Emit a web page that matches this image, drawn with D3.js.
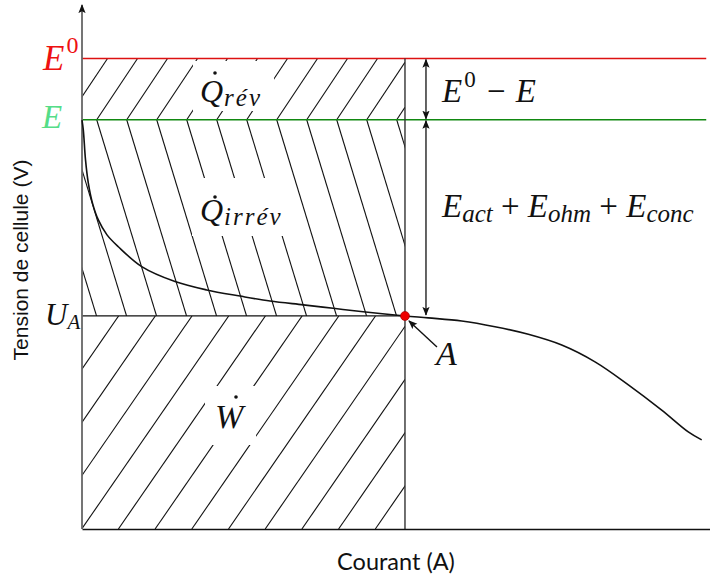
<!DOCTYPE html>
<html>
<head>
<meta charset="utf-8">
<script src="https://cdn.jsdelivr.net/npm/d3@7"></script>
<style>
  body { margin: 0; background: #fff; }
  svg { display: block; }
</style>
</head>
<body>
<div id="chart"></div>
<script>
// courbe de polarisation (courant en % du max, tension en V)
const courant = [0, 0.21, 0.56, 1.0, 1.67, 2.6, 3.98, 5.78, 9.51, 14.81, 19.86, 25.16, 29.94, 35.24, 40.0,
  44.78, 51.43, 55.14, 60.46, 65.76, 71.07, 76.39, 81.69, 87.0, 92.31, 96.54, 98.68];
const tension = [1.069, 1.043, 0.965, 0.905, 0.852, 0.808, 0.769, 0.738, 0.686, 0.647, 0.625, 0.609, 0.596, 0.586, 0.577,
  0.568, 0.557, 0.552, 0.544, 0.529, 0.509, 0.481, 0.437, 0.377, 0.311, 0.254, 0.233];

// niveaux de tension : E0, E, U_A
const niveauxNoms = ['E0', 'E', 'UA'];
const niveauxVal = [1.23, 1.07, 0.557];

// point de fonctionnement A
const pointA = { i: 51.43, u: 0.557 };

const width = 710, height = 578;
const E0 = niveauxVal[0], E = niveauxVal[1], UA = niveauxVal[2];
const serif = '"Liberation Serif", "Times New Roman", serif';

const svg = d3.select('#chart').append('svg')
  .attr('width', width)
  .attr('height', height);

const x = d3.scaleLinear().domain([0, 100]).range([82, 710]);
const y = d3.scaleLinear().domain([0, 1.37]).range([529, 5]);

const defs = svg.append('defs');
defs.append('marker')
  .attr('id', 'fleche')
  .attr('viewBox', '0 -5 10 10')
  .attr('refX', 9).attr('refY', 0)
  .attr('markerUnits', 'userSpaceOnUse')
  .attr('markerWidth', 9).attr('markerHeight', 9)
  .attr('orient', 'auto-start-reverse')
  .append('path')
  .attr('d', 'M0,-4L10,0L0,4L2,0Z')
  .attr('fill', '#111');

// hachures, une zone a la fois
function hachures(id, x0, x1, y0, y1, yRef, xDebut, pas, pente) {
  defs.append('clipPath').attr('id', id)
    .append('rect')
    .attr('x', x0).attr('y', y0)
    .attr('width', x1 - x0).attr('height', y1 - y0);
  const xs = d3.range(-25, 30).map(k => xDebut + k * pas);
  svg.append('g')
    .attr('clip-path', `url(#${id})`)
    .selectAll('line')
    .data(xs)
    .join('line')
    .attr('x1', d => d + pente * (y0 - yRef))
    .attr('y1', y0)
    .attr('x2', d => d + pente * (y1 - yRef))
    .attr('y2', y1)
    .attr('stroke', '#111')
    .attr('stroke-width', 1.1);
}

hachures('h-rev', x(0), x(pointA.i), y(E0), y(E), y(E), x(0) + 14.7, 30, -0.667);
hachures('h-irrev', x(0), x(pointA.i), y(E), y(UA), y(E), x(0) + 14.7, 30, 0.305);
hachures('h-w', x(0), x(pointA.i), y(UA), y(0), y(0), x(0) - 0.3, 36.7, -0.69);

// petit moteur de formules (lettre, indices, exposants)
function formule(g, px, py, parties, couleur) {
  const t = g.append('text')
    .attr('x', px).attr('y', py)
    .attr('fill', couleur || '#111')
    .style('font-family', serif)
    .style('white-space', 'pre');
  let cur = 0;
  parties.forEach(p => {
    const off = p.off || 0;
    t.append('tspan')
      .attr('dy', off - cur)
      .attr('dx', p.dx || 0)
      .style('font-size', p.s + 'px')
      .style('font-style', p.it === false ? 'normal' : 'italic')
      .style('letter-spacing', (p.ls || 0) + 'px')
      .text(p.t);
    cur = off;
  });
  return t;
}

const etiquettes = svg.append('g');

function fond(t, padX, padTop, padBot, padR) {
  const b = t.node().getBBox();
  etiquettes.insert('rect', ':first-child')
    .attr('x', b.x - padX).attr('y', b.y - padTop)
    .attr('width', b.width + padX + padR).attr('height', b.height + padTop + padBot)
    .attr('fill', '#fff');
}

function point(g, cx, cy) {
  g.append('circle').attr('cx', cx).attr('cy', cy).attr('r', 1.8).attr('fill', '#111');
}

// Q rev
const qRev = formule(etiquettes, 200, 102, [
  { t: 'Q', s: 32 },
  { t: 'rév', s: 25, off: 4, dx: 1, ls: 2 }
]);
point(etiquettes, 215, 73);
fond(qRev, 7, 12, 0, 12);

// Q irrev
const qIrr = formule(etiquettes, 200, 221, [
  { t: 'Q', s: 32 },
  { t: 'irrév', s: 25, off: 4, dx: 1, ls: 2 }
]);
point(etiquettes, 215, 197);
fond(qIrr, 8, 14, 6, 6);

// W
const wLab = formule(etiquettes, 215, 428, [{ t: 'W', s: 34 }]);
point(etiquettes, 236, 397);
fond(wLab, 10, 12, 10, 10);

// lignes de niveau
svg.append('line')
  .attr('x1', x(0)).attr('x2', x(99.4))
  .attr('y1', y(E0)).attr('y2', y(E0))
  .attr('stroke', '#dd1111').attr('stroke-width', 1.5);
svg.append('line')
  .attr('x1', x(0)).attr('x2', x(99.4))
  .attr('y1', y(E)).attr('y2', y(E))
  .attr('stroke', '#118811').attr('stroke-width', 1.5);
svg.append('line')
  .attr('x1', x(0)).attr('x2', x(pointA.i))
  .attr('y1', y(UA)).attr('y2', y(UA))
  .attr('stroke', '#111').attr('stroke-width', 1.3);
svg.append('line')
  .attr('x1', x(pointA.i)).attr('x2', x(pointA.i))
  .attr('y1', y(E0)).attr('y2', y(0))
  .attr('stroke', '#333').attr('stroke-width', 1.4);

// axes
svg.append('g')
  .attr('transform', `translate(0,${y(0)})`)
  .call(d3.axisBottom(x).ticks(0).tickSizeOuter(0))
  .call(g => g.select('.domain').attr('stroke', '#111').attr('stroke-width', 1.6));

const axeY = svg.append('g')
  .attr('transform', `translate(${x(0)},0)`)
  .call(d3.axisLeft(y).ticks(0).tickSizeOuter(0));
axeY.select('.domain').remove();
axeY.append('line')
  .attr('x1', 0).attr('x2', 0)
  .attr('y1', y(0)).attr('y2', y.range()[1])
  .attr('stroke', '#666').attr('stroke-width', 1.8)
  .attr('marker-end', 'url(#fleche)');

// courbe de polarisation
const ligne = d3.line()
  .x((d, i) => x(courant[i]))
  .y(d => y(d))
  .curve(d3.curveCatmullRom.alpha(0.5));

svg.append('path')
  .datum(tension)
  .attr('d', ligne)
  .attr('fill', 'none')
  .attr('stroke', '#111')
  .attr('stroke-width', 1.6);

// fleches de cote
const xCote = x(pointA.i) + 21;
svg.append('line')
  .attr('x1', xCote).attr('x2', xCote)
  .attr('y1', y(E0) + 1).attr('y2', y(E) - 1)
  .attr('stroke', '#111').attr('stroke-width', 1.3)
  .attr('marker-start', 'url(#fleche)').attr('marker-end', 'url(#fleche)');
svg.append('line')
  .attr('x1', xCote).attr('x2', xCote)
  .attr('y1', y(E) + 1).attr('y2', y(UA) - 1)
  .attr('stroke', '#111').attr('stroke-width', 1.3)
  .attr('marker-start', 'url(#fleche)').attr('marker-end', 'url(#fleche)');

// fleche vers A
svg.append('line')
  .attr('x1', x(pointA.i) + 32).attr('y1', y(pointA.u) + 31)
  .attr('x2', x(pointA.i) + 4).attr('y2', y(pointA.u) + 5)
  .attr('stroke', '#111').attr('stroke-width', 1.4)
  .attr('marker-end', 'url(#fleche)');

svg.append('circle')
  .attr('cx', x(pointA.i)).attr('cy', y(pointA.u))
  .attr('r', 4.5)
  .attr('fill', '#ee0000')
  .attr('stroke', '#990000').attr('stroke-width', 0.6);

// textes
const textes = svg.append('g');
formule(textes, 43, 70, [
  { t: 'E', s: 35 },
  { t: '0', s: 24, off: -17, it: false, dx: 2 }
], '#ee1111');
formule(textes, 42, 128, [{ t: 'E', s: 33 }], '#55dd88');
formule(textes, 45, 325, [
  { t: 'U', s: 31 },
  { t: 'A', s: 21, off: 4 }
]);

formule(textes, 442, 102, [
  { t: 'E', s: 33 },
  { t: '0', s: 23, off: -15, it: false, dx: 2 },
  { t: ' − ', s: 33, off: 0, it: false, dx: 3 },
  { t: 'E', s: 33, dx: 2 }
]);
formule(textes, 442, 217, [
  { t: 'E', s: 33 },
  { t: 'act', s: 25, off: 5 },
  { t: ' + ', s: 33, off: 0, it: false },
  { t: 'E', s: 33 },
  { t: 'ohm', s: 25, off: 5 },
  { t: ' + ', s: 33, off: 0, it: false },
  { t: 'E', s: 33 },
  { t: 'conc', s: 25, off: 5 }
]);
formule(textes, 436, 365, [{ t: 'A', s: 34 }]);

// titres des axes
svg.append('text')
  .attr('transform', `translate(28,260) rotate(-90)`)
  .attr('text-anchor', 'middle')
  .style('font-family', '"Liberation Sans", Arial, sans-serif')
  .style('font-size', '21px')
  .attr('fill', '#111')
  .text('Tension de cellule (V)');

svg.append('text')
  .attr('x', 396).attr('y', 570)
  .attr('text-anchor', 'middle')
  .style('font-family', 'Lato, "Open Sans", sans-serif')
  .style('font-size', '23.5px')
  .attr('fill', '#111')
  .text('Courant (A)');
</script>
</body>
</html>
